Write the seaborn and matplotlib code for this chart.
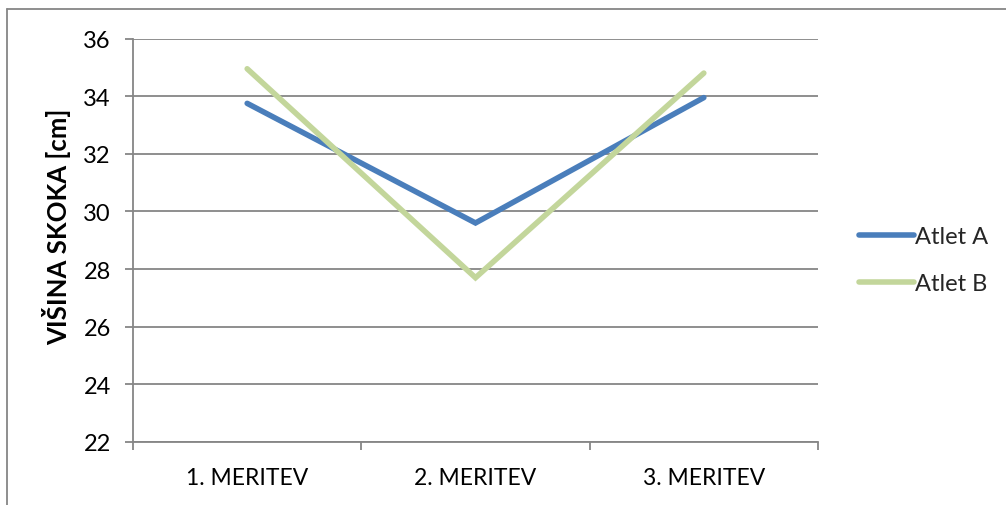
import matplotlib
matplotlib.use("Agg")
import matplotlib.pyplot as plt
from matplotlib.lines import Line2D
import seaborn as sns
import pandas as pd

# Jump heights per measurement
measurements = ["1. MERITEV", "2. MERITEV", "3. MERITEV"]
athlete_a = [33.75, 29.6, 33.95]
athlete_b = [34.95, 27.7, 34.8]
series_names = ["Atlet A", "Atlet B"]
y_ticks = [22, 24, 26, 28, 30, 32, 34, 36]

colors = {"Atlet A": "#4A7EBB", "Atlet B": "#C3D69B"}
grid_color = "#868686"

df = pd.DataFrame({
    "meritev": measurements * 2,
    "visina": athlete_a + athlete_b,
    "atlet": [series_names[0]] * 3 + [series_names[1]] * 3,
})

sns.set_theme(style="white")
plt.rcParams["font.family"] = ["Lato", "DejaVu Sans"]

fig = plt.figure(figsize=(10.06, 5.06), dpi=100)
ax = fig.add_axes([133 / 1006, 1 - 443 / 506, (818 - 133) / 1006, (443 - 39.5) / 506])

sns.lineplot(data=df, x="meritev", y="visina", hue="atlet", palette=colors,
             linewidth=4.0, ax=ax, legend=False, sort=False)
for ln in ax.lines:
    ln.set_solid_capstyle("round")
    ln.set_solid_joinstyle("miter")

ax.set_xlim(-0.5, 2.5)
ax.set_ylim(22, 36)
ax.set_yticks(y_ticks)
ax.set_yticklabels([str(v) for v in y_ticks])
ax.set_xticks(range(len(measurements)))
ax.set_xticklabels(measurements)
ax.set_xticks([-0.5, 0.5, 1.5, 2.5], minor=True)

ax.grid(axis="y", color=grid_color, linewidth=1.3)
ax.set_axisbelow(True)
for side in ("top", "right"):
    ax.spines[side].set_visible(False)
for side in ("left", "bottom"):
    ax.spines[side].set_color(grid_color)
    ax.spines[side].set_linewidth(1.3)

ax.tick_params(axis="y", which="major", direction="out", length=6, width=1.3,
               color=grid_color, left=True, pad=10, labelsize=17, labelcolor="black")
ax.tick_params(axis="x", which="major", length=0, pad=18, labelsize=16.5, labelcolor="black")
ax.tick_params(axis="x", which="minor", direction="out", length=6, width=1.3,
               color=grid_color, bottom=True)

ax.set_xlabel("")
ax.set_ylabel("VIŠINA SKOKA [cm]", fontsize=18.5, fontweight="bold", color="black")
ax.yaxis.set_label_coords(-0.091, 0.535)

handles = [Line2D([], [], color=colors[n], linewidth=4.0, solid_capstyle="round")
           for n in series_names]
fig.legend(handles, series_names, loc="center left",
           bbox_to_anchor=(838 / 1006, 1 - 261 / 506), frameon=False,
           fontsize=17, handlelength=2.3, handletextpad=0.08, labelspacing=1.1)

# outer chart frame (left and top edges)
fig.add_artist(Line2D([7 / 1006, 7 / 1006], [0, 1 - 10 / 506], transform=fig.transFigure,
                      color=grid_color, linewidth=1.3))
fig.add_artist(Line2D([7 / 1006, 1], [1 - 10 / 506, 1 - 10 / 506], transform=fig.transFigure,
                      color=grid_color, linewidth=1.3))

fig.savefig("out.png", dpi=100, facecolor="white")
